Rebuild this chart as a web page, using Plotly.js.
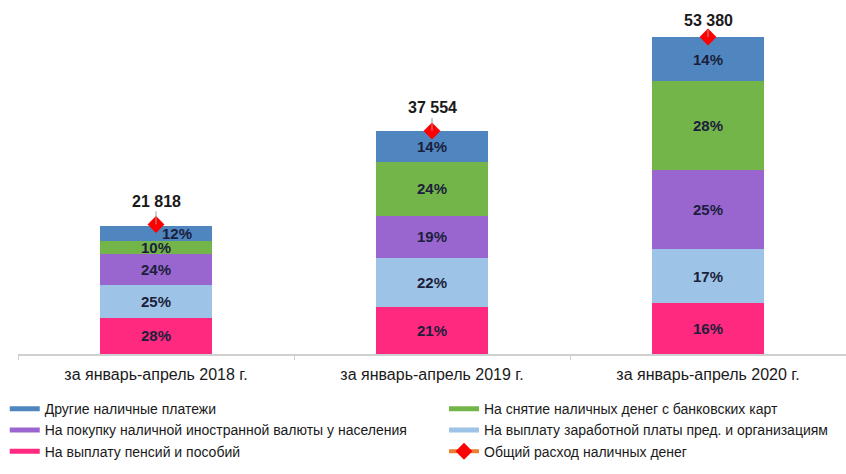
<!DOCTYPE html>
<html>
<head>
<meta charset="utf-8">
<script src="https://cdn.plot.ly/plotly-3.0.1.min.js"></script>
<style>html,body{margin:0;padding:0;background:#fff;}#chart{width:846px;height:474px;}</style>
</head>
<body>
<div id="chart"></div>
<script>
const categories = ['за январь-апрель 2018 г.', 'за январь-апрель 2019 г.', 'за январь-апрель 2020 г.'];
const totals = [21818, 37554, 53380];
const totalLabels = ['21 818', '37 554', '53 380'];
const pctPensions = [28, 21, 16];
const pctSalary = [25, 22, 17];
const pctCurrency = [24, 19, 25];
const pctCards = [10, 24, 28];
const pctOther = [12, 14, 14];
const seriesNames = {
  other: 'Другие наличные платежи',
  cards: 'На снятие наличных денег с банковских карт',
  currency: 'На покупку наличной иностранной валюты у населения',
  salary: 'На выплату заработной платы пред. и организациям',
  pensions: 'На выплату пенсий и пособий',
  total: 'Общий расход наличных денег'
};

const colors = {
  other: '#4f86c0',
  cards: '#74b54a',
  currency: '#9966d0',
  salary: '#9dc3e6',
  pensions: '#ff2a80',
  total: '#ed7d31'
};

const FONT = 'Liberation Sans, Arial, sans-serif';
const textColor = '#1b1f3b';
const pctFont = {family: FONT, size: 15, color: textColor, weight: 'bold'};

function seg(key, pcts, textpos) {
  return {
    type: 'bar',
    name: seriesNames[key],
    x: categories,
    y: pcts.map((p, i) => totals[i] * p / 100),
    text: pcts.map(p => p + '%'),
    textposition: textpos || 'inside',
    insidetextanchor: 'middle',
    textangle: 0,
    textfont: pctFont,
    marker: {color: colors[key], line: {width: 0}},
    width: 0.405,
    showlegend: false,
    hoverinfo: 'skip'
  };
}

function legendOnly(key, legendId) {
  return {
    type: 'scatter', mode: 'lines', name: seriesNames[key],
    x: [null], y: [null], legend: legendId,
    line: {color: colors[key], width: 5},
    hoverinfo: 'skip'
  };
}

// totals: separated by gaps so no connecting line is drawn, but legend shows line+marker
const totX = [], totY = [];
categories.forEach((c, i) => {
  totX.push(c); totY.push(totals[i]);
  if (i < categories.length - 1) { totX.push(c); totY.push(null); }
});

const data = [
  seg('pensions', pctPensions),
  seg('salary', pctSalary),
  seg('currency', pctCurrency),
  seg('cards', pctCards),
  seg('other', pctOther, ['none', 'inside', 'inside']),
  legendOnly('other', 'legend'),
  legendOnly('currency', 'legend'),
  legendOnly('pensions', 'legend'),
  legendOnly('cards', 'legend2'),
  legendOnly('salary', 'legend2'),
  {
    type: 'scatter', mode: 'lines+markers', name: seriesNames.total, legend: 'legend2',
    x: totX, y: totY, connectgaps: false,
    line: {color: colors.total, width: 4},
    marker: {symbol: 'diamond', size: 13, color: '#ff0000', line: {width: 0}},
    hoverinfo: 'skip'
  }
];

const labelOffsets = [-23, -23, -17];
const annotations = categories.map((c, i) => ({
  x: c, y: totals[i], xref: 'x', yref: 'y',
  text: totalLabels[i],
  showarrow: true, arrowhead: 0, arrowwidth: 1, arrowcolor: '#9a9a9a',
  ax: 0, ay: labelOffsets[i],
  font: {family: FONT, size: 16, color: '#1a1a1a', weight: 'bold'}
}));
// the small top segment label of the first bar sits beside the total marker
const below0 = pctPensions[0] + pctSalary[0] + pctCurrency[0] + pctCards[0];
annotations.push({
  x: categories[0], xref: 'x', yref: 'y',
  y: totals[0] * (below0 + pctOther[0] / 2) / 100,
  text: pctOther[0] + '%', showarrow: false, xshift: 21,
  font: pctFont
});

const legendCommon = {
  orientation: 'v', traceorder: 'normal',
  xanchor: 'left', yanchor: 'top', y: -0.114,
  font: {family: FONT, size: 14, color: '#1a1a1a'},
  tracegroupgap: 0, itemwidth: 30,
  bgcolor: 'rgba(0,0,0,0)'
};

const layout = {
  width: 846, height: 474,
  margin: {l: 18, r: 0, t: 10, b: 120},
  paper_bgcolor: '#ffffff', plot_bgcolor: '#ffffff',
  barmode: 'stack',
  uniformtext: {minsize: 15, mode: 'show'},
  font: {family: FONT, size: 14, color: '#1a1a1a'},
  xaxis: {
    type: 'category',
    showline: true, linecolor: '#d0d0d0', linewidth: 1.5,
    ticks: 'outside', tickson: 'boundaries', ticklen: 4, tickcolor: '#d0d0d0',
    tickfont: {family: FONT, size: 16, color: '#1a1a1a'},
    ticklabelstandoff: 5,
    showgrid: false, zeroline: false, fixedrange: true
  },
  yaxis: {
    range: [0, 57926], visible: false, showgrid: false, zeroline: false, fixedrange: true
  },
  showlegend: true,
  legend: Object.assign({}, legendCommon, {x: -0.016}),
  legend2: Object.assign({}, legendCommon, {x: 0.5145}),
  annotations: annotations
};

Plotly.newPlot('chart', data, layout, {displayModeBar: false, staticPlot: true});
</script>
</body>
</html>
